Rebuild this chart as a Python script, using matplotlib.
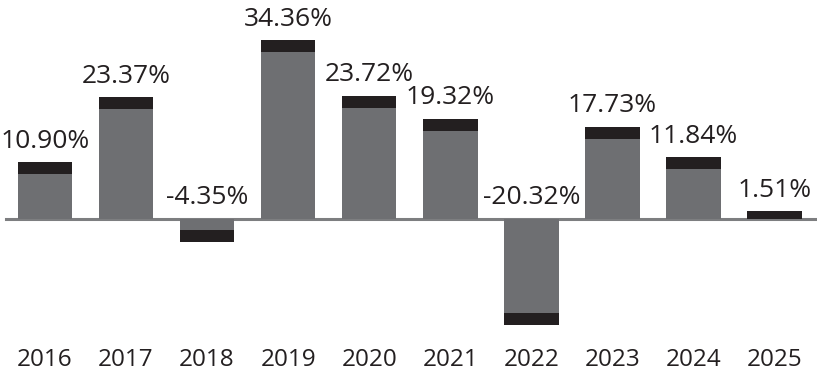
import matplotlib
matplotlib.use("Agg")
import matplotlib.pyplot as plt

years = ["2016", "2017", "2018", "2019", "2020", "2021", "2022", "2023", "2024", "2025"]
returns = [10.90, 23.37, -4.35, 34.36, 23.72, 19.32, -20.32, 17.73, 11.84, 1.51]

BAR_GRAY = "#6e6f72"
CAP_DARK = "#231f20"
AXIS_GRAY = "#7d7e80"

PX_PER_UNIT = 5.2   # vertical pixels per percentage point
CAP = 12 / PX_PER_UNIT

plt.rcParams["font.family"] = ["Open Sans", "DejaVu Sans"]

fig = plt.figure(figsize=(8.17, 3.78), dpi=100)
ax = fig.add_axes([0, 0, 1, 1])
ax.set_xlim(-0.552, 9.522)
ax.set_ylim(-159 / PX_PER_UNIT, 219 / PX_PER_UNIT)
ax.axis("off")

# zero line
ax.axhline(0, xmin=6 / 817, xmax=1, color=AXIS_GRAY, linewidth=2.2, zorder=1)

width = 0.672
for i, v in enumerate(returns):
    sign = 1 if v >= 0 else -1
    cap = min(CAP, abs(v))
    body = v - sign * cap
    if abs(body) > 0:
        ax.bar(i, body, width=width, color=BAR_GRAY, linewidth=0, zorder=2)
    ax.bar(i, sign * cap, bottom=body, width=width, color=CAP_DARK, linewidth=0, zorder=2)

    top = max(v, 0)
    ax.text(i, top + 14.5 / PX_PER_UNIT, f"{v:.2f}%", ha="center", va="baseline",
            fontsize=19, color="#231f20")
    ax.text(i, -141 / PX_PER_UNIT, years[i], ha="center", va="center",
            fontsize=17.5, color="#231f20")

fig.savefig("out.png", dpi=100)
